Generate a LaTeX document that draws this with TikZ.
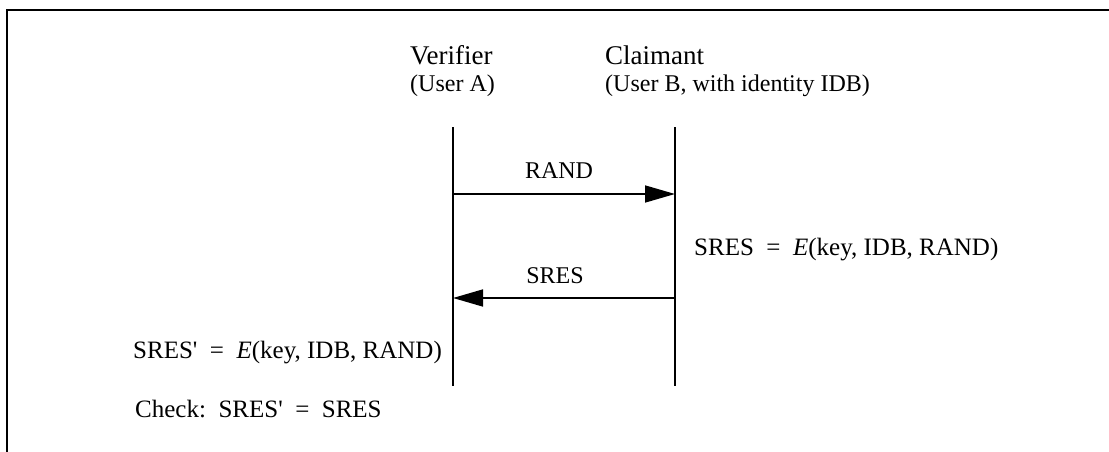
\documentclass[tikz,border=0pt]{standalone}
\usepackage{fontspec}
\setmainfont{Liberation Serif}[Ligatures=TeXOff]
\usetikzlibrary{arrows.meta}
\begin{document}
\begin{tikzpicture}[x=1pt,y=-1pt,
  hdr/.style={anchor=base west,inner sep=0pt,font=\fontsize{27}{32}\selectfont},
  sub/.style={anchor=base west,inner sep=0pt,font=\fontsize{24}{29}\selectfont},
  txt/.style={anchor=base west,inner sep=0pt,font=\fontsize{25}{30}\selectfont},
  lbl/.style={anchor=base,inner sep=0pt,font=\fontsize{24}{29}\selectfont},
  life/.style={line width=1.6pt},
  msg/.style={line width=1.6pt,-{Triangle[length=30pt,width=17pt]}},
  frm/.style={line width=2.2pt}]
\useasboundingbox (0,0) rectangle (1109,452);
\draw[frm] (7,452) -- (7,10) -- (1109,10);
% headers
\node[hdr] (ver) at (410,65) {Verifier};
\node[sub] (usa) at (410,92) {(User A)};
\node[hdr] (cla) at (605,65) {Claimant};
\node[sub] (usb) at (605,92) {(User B, with identity IDB)};
% lifelines
\coordinate (vt) at (453,127);
\coordinate (vb) at (453,386);
\coordinate (ct) at (675,127);
\coordinate (cb) at (675,386);
\draw[life] (vt) -- (vb);
\draw[life] (ct) -- (cb);
% messages
\coordinate (r1) at (453,194);
\coordinate (r2) at (675,194);
\draw[msg] (r1) -- (r2);
\node[lbl] (rand) at (559,178) {RAND};
\coordinate (s1) at (675,298);
\coordinate (s2) at (453,298);
\draw[msg] (s1) -- (s2);
\node[lbl] (sres) at (555,283) {SRES};
% equations
\node[txt] (eqb) at (694,255) {SRES\hspace{0.5em}=\hspace{0.5em}\textit{E}(key, IDB, RAND)};
\node[txt] (eqa) at (133,358) {SRES'\hspace{0.5em}=\hspace{0.5em}\textit{E}(key, IDB, RAND)};
\node[txt] (chk) at (135,417) {Check:\hspace{0.5em}SRES'\hspace{0.5em}=\hspace{0.5em}SRES};
\end{tikzpicture}
\end{document}
